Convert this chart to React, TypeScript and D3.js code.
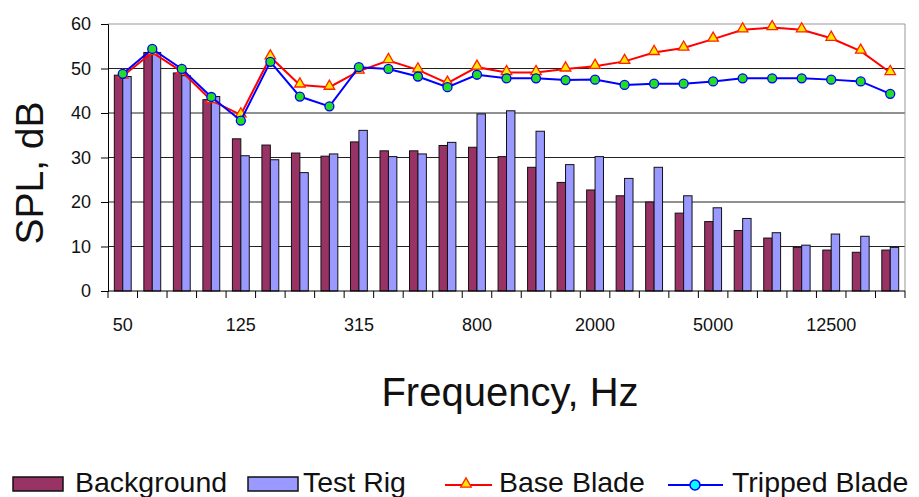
import React, { useEffect, useRef } from 'react'
import * as d3 from 'd3'

const freqs = ['50', '63', '80', '100', '125', '160', '200', '250', '315', '400', '500', '630', '800', '1000', '1250', '1600', '2000', '2500', '3150', '4000', '5000', '6300', '8000', '10000', '12500', '16000', '20000']
const background = [48.5, 53.6, 49.0, 43.0, 34.2, 32.8, 31.0, 30.3, 33.5, 31.5, 31.5, 32.7, 32.3, 30.2, 27.8, 24.4, 22.7, 21.4, 20.0, 17.5, 15.6, 13.6, 11.9, 9.8, 9.2, 8.7, 9.2]
const testRig = [48.2, 53.6, 48.4, 43.7, 30.4, 29.5, 26.6, 30.8, 36.1, 30.2, 30.8, 33.4, 39.8, 40.5, 35.9, 28.4, 30.2, 25.3, 27.8, 21.4, 18.7, 16.3, 13.1, 10.3, 12.8, 12.3, 9.8]
const baseBlade = [48.3, 53.6, 49.3, 42.8, 39.6, 52.6, 46.3, 45.8, 49.4, 51.8, 49.7, 46.7, 50.3, 49.1, 49.1, 49.9, 50.5, 51.6, 53.6, 54.6, 56.6, 58.7, 59.2, 58.7, 56.8, 53.9, 49.1]
const trippedBlade = [48.8, 54.4, 49.9, 43.6, 38.3, 51.5, 43.7, 41.5, 50.3, 49.9, 48.2, 45.8, 48.6, 47.8, 47.8, 47.4, 47.5, 46.3, 46.6, 46.6, 47.1, 47.8, 47.8, 47.8, 47.5, 47.1, 44.3]
const xLabels = ['50', '125', '315', '800', '2000', '5000', '12500']
const yTicks = [0, 10, 20, 30, 40, 50, 60]

const FONT = "'Liberation Sans', Arial, sans-serif"

const App: React.FC = () => {
  const ref = useRef<SVGSVGElement>(null)

  useEffect(() => {
    const width = 919
    const height = 497
    const left = 108
    const right = 905
    const top = 24
    const bottom = 291

    const svg = d3.select(ref.current)
    svg.selectAll('*').remove()

    const x = d3.scaleBand<string>().domain(freqs).range([left, right])
    const inner = d3
      .scaleBand<string>()
      .domain(['bg', 'tr'])
      .range([0, x.bandwidth()])
      .paddingInner(0)
      .paddingOuter(0.75)
    const y = d3.scaleLinear().domain([0, 60]).range([bottom, top])
    const cx = (i: number) => (x(freqs[i]) as number) + x.bandwidth() / 2

    /* grid */
    svg
      .append('g')
      .selectAll('line')
      .data(yTicks.filter((t) => t > 0))
      .enter()
      .append('line')
      .attr('x1', left)
      .attr('x2', right)
      .attr('y1', (d) => y(d))
      .attr('y2', (d) => y(d))
      .attr('stroke', (d) => (d === 60 ? '#999' : '#222'))
      .attr('stroke-width', 1)
    svg
      .append('line')
      .attr('x1', right)
      .attr('x2', right)
      .attr('y1', top)
      .attr('y2', bottom)
      .attr('stroke', '#999')

    /* bars */
    const bars = svg.append('g')
    const drawBars = (vals: number[], key: string, fill: string) => {
      bars
        .append('g')
        .selectAll('rect')
        .data(vals)
        .enter()
        .append('rect')
        .attr('x', (d, i) => (x(freqs[i]) as number) + (inner(key) as number))
        .attr('width', inner.bandwidth())
        .attr('y', (d) => y(d))
        .attr('height', (d) => bottom - y(d))
        .attr('fill', fill)
        .attr('stroke', '#111')
        .attr('stroke-width', 1)
    }
    drawBars(background, 'bg', '#993366')
    drawBars(testRig, 'tr', '#9999FF')

    /* axes */
    const yAxis = d3.axisLeft(y).tickValues(yTicks).tickSize(7).tickPadding(10)
    const gy = svg
      .append('g')
      .attr('transform', `translate(${left},0)`)
      .call(yAxis)
    gy.select('.domain').attr('stroke', '#000')
    gy.selectAll('.tick line').attr('stroke', '#000')
    gy.selectAll('text')
      .attr('fill', '#111')
      .style('font-family', FONT)
      .style('font-size', '18px')

    svg
      .append('line')
      .attr('x1', left)
      .attr('x2', right)
      .attr('y1', bottom)
      .attr('y2', bottom)
      .attr('stroke', '#000')
    svg
      .append('g')
      .selectAll('line')
      .data(freqs.map((f) => x(f) as number).concat([right]))
      .enter()
      .append('line')
      .attr('x1', (d) => d)
      .attr('x2', (d) => d)
      .attr('y1', bottom)
      .attr('y2', bottom + 7)
      .attr('stroke', '#000')

    const xAxis = d3.axisBottom(x).tickValues(xLabels).tickSize(0).tickPadding(27)
    const gx = svg
      .append('g')
      .attr('transform', `translate(0,${bottom})`)
      .call(xAxis)
    gx.select('.domain').remove()
    gx.selectAll('text')
      .attr('fill', '#111')
      .style('font-family', FONT)
      .style('font-size', '18px')

    /* lines */
    const line = d3
      .line<number>()
      .x((d, i) => cx(i))
      .y((d) => y(d))

    const tri = d3.symbol().type(d3.symbolTriangle).size(48)

    svg
      .append('path')
      .attr('d', line(baseBlade))
      .attr('fill', 'none')
      .attr('stroke', '#FF0000')
      .attr('stroke-width', 2)
    svg
      .append('g')
      .selectAll('path')
      .data(baseBlade)
      .enter()
      .append('path')
      .attr('d', tri)
      .attr('transform', (d, i) => `translate(${cx(i)},${y(d) - 1})`)
      .attr('fill', '#FFE800')
      .attr('stroke', '#FF2200')
      .attr('stroke-width', 1.3)

    svg
      .append('path')
      .attr('d', line(trippedBlade))
      .attr('fill', 'none')
      .attr('stroke', '#0000FF')
      .attr('stroke-width', 2)
    svg
      .append('g')
      .selectAll('circle')
      .data(trippedBlade)
      .enter()
      .append('circle')
      .attr('cx', (d, i) => cx(i))
      .attr('cy', (d) => y(d))
      .attr('r', 4.5)
      .attr('fill', '#22DD22')
      .attr('stroke', '#0000FF')
      .attr('stroke-width', 1.3)

    /* titles */
    svg
      .append('text')
      .attr('x', 510)
      .attr('y', 406)
      .attr('text-anchor', 'middle')
      .style('font-family', FONT)
      .style('font-size', '40px')
      .attr('fill', '#111')
      .text('Frequency, Hz')
    svg
      .append('text')
      .attr('transform', `translate(43,173) rotate(-90)`)
      .attr('text-anchor', 'middle')
      .style('font-family', FONT)
      .style('font-size', '39px')
      .attr('fill', '#111')
      .text('SPL, dB')

    /* legend */
    const lg = svg.append('g')
    const ly = 485
    const legendText = (tx: number, label: string) =>
      lg
        .append('text')
        .attr('x', tx)
        .attr('y', 492)
        .style('font-family', FONT)
        .style('font-size', '28.5px')
        .attr('fill', '#111')
        .text(label)

    lg.append('rect').attr('x', 13).attr('y', 477).attr('width', 50).attr('height', 14)
      .attr('fill', '#993366').attr('stroke', '#111').attr('stroke-width', 1.5)
    legendText(75, 'Background')
    lg.append('rect').attr('x', 248).attr('y', 477).attr('width', 50).attr('height', 14)
      .attr('fill', '#9999FF').attr('stroke', '#111').attr('stroke-width', 1.5)
    legendText(303, 'Test Rig')

    lg.append('line').attr('x1', 445).attr('x2', 492).attr('y1', ly).attr('y2', ly)
      .attr('stroke', '#FF0000').attr('stroke-width', 2)
    lg.append('path').attr('d', tri).attr('transform', `translate(466,${ly - 1})`)
      .attr('fill', '#FFE800').attr('stroke', '#FF2200').attr('stroke-width', 1.3)
    legendText(499, 'Base Blade')

    lg.append('line').attr('x1', 668).attr('x2', 723).attr('y1', ly).attr('y2', ly)
      .attr('stroke', '#0000FF').attr('stroke-width', 2)
    lg.append('circle').attr('cx', 695).attr('cy', ly).attr('r', 5)
      .attr('fill', '#00FFFF').attr('stroke', '#0000FF').attr('stroke-width', 1.5)
    legendText(732, 'Tripped Blade')

    svg.attr('width', width).attr('height', height)
  }, [])

  return (
    <div style={{ position: 'absolute', left: 0, top: 0 }}>
      <svg ref={ref} width={919} height={497} style={{ display: 'block', background: '#fff' }} />
    </div>
  )
}

export default App
